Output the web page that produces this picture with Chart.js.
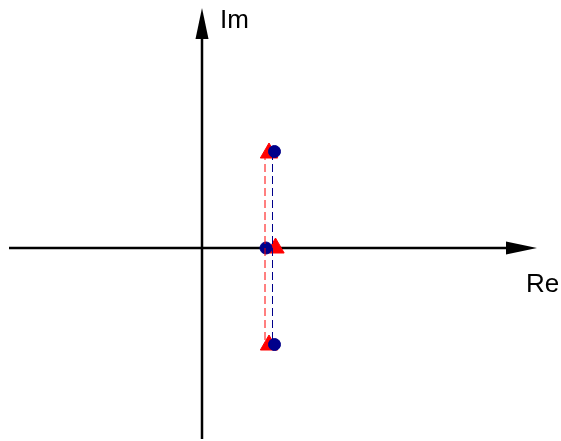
<!DOCTYPE html>
<html>
<head>
<meta charset="utf-8">
<script src="https://cdn.jsdelivr.net/npm/chart.js@4.4.0/dist/chart.umd.min.js"></script>
<style>
  body { margin: 0; background: #fff; }
  #wrap { width: 561px; height: 441px; position: relative; }
</style>
</head>
<body>
<div id="wrap"><canvas id="pz"></canvas></div>
<script>
// poles (circles) and zeros (triangles), real / imaginary parts
const circleRe = [0.725, 0.64, 0.725];
const circleIm = [0.965, 0, -0.965];
const triRe = [0.67, 0.735, 0.67];
const triIm = [0.95, 0, -0.97];

// dashed connectors between conjugate pairs
const redLineRe = [0.63, 0.63];
const redLineIm = [0.96, -0.96];
const blueLineRe = [0.705, 0.705];
const blueLineIm = [0.96, -0.96];

const axisLabels = ['Re', 'Im'];

const toPts = (xs, ys) => xs.map((x, i) => ({ x: x, y: ys[i] }));

// draws the Re / Im axes with arrow heads through the origin
const axesPlugin = {
    id: 'axes',
    beforeDatasetsDraw(chart) {
        const ctx = chart.ctx;
        const sx = chart.scales.x, sy = chart.scales.y;
        const x0 = sx.getPixelForValue(0), y0 = sy.getPixelForValue(0);
        const left = sx.getPixelForValue(-1.93), right = sx.getPixelForValue(3.35);
        const bottom = sy.getPixelForValue(-1.91), top = sy.getPixelForValue(2.40);
        const len = 31, hw = 6.5;
        ctx.save();
        ctx.strokeStyle = '#000';
        ctx.fillStyle = '#000';
        ctx.lineWidth = 2.5;
        ctx.beginPath();
        ctx.moveTo(left, y0);
        ctx.lineTo(right - len + 2, y0);
        ctx.moveTo(x0, bottom);
        ctx.lineTo(x0, top + len - 2);
        ctx.stroke();
        // arrow heads
        ctx.beginPath();
        ctx.moveTo(right, y0);
        ctx.lineTo(right - len, y0 - hw);
        ctx.lineTo(right - len, y0 + hw);
        ctx.closePath();
        ctx.fill();
        ctx.beginPath();
        ctx.moveTo(x0, top);
        ctx.lineTo(x0 - hw, top + len);
        ctx.lineTo(x0 + hw, top + len);
        ctx.closePath();
        ctx.fill();
        // labels
        ctx.font = '26px "Liberation Sans", Arial, sans-serif';
        ctx.textBaseline = 'alphabetic';
        ctx.textAlign = 'left';
        ctx.fillText(axisLabels[0], right - 11, y0 + 44);
        ctx.fillText(axisLabels[1], x0 + 18, top + 20);
        ctx.restore();
    }
};

new Chart(document.getElementById('pz'), {
    type: 'scatter',
    data: {
        datasets: [
            {
                data: toPts(redLineRe, redLineIm),
                showLine: true,
                borderColor: '#ff0000',
                borderWidth: 1,
                borderDash: [8, 4],
                pointRadius: 0,
            },
            {
                data: toPts(blueLineRe, blueLineIm),
                showLine: true,
                borderColor: '#00008b',
                borderWidth: 1,
                borderDash: [8, 4],
                pointRadius: 0,
            },
            {
                data: toPts(circleRe, circleIm),
                pointStyle: 'circle',
                pointRadius: 6,
                backgroundColor: '#00008b',
                borderColor: '#00008b',
                borderWidth: 1,
            },
            {
                data: toPts(triRe, triIm),
                pointStyle: 'triangle',
                pointRadius: 10,
                backgroundColor: '#ff0000',
                borderColor: '#ff0000',
                borderWidth: 1,
            },
        ],
    },
    options: {
        responsive: true,
        maintainAspectRatio: false,
        animation: false,
        layout: { padding: 0, autoPadding: false },
        plugins: {
            legend: { display: false },
            tooltip: { enabled: false },
        },
        scales: {
            x: { type: 'linear', min: -2.02, max: 3.59, display: false },
            y: { type: 'linear', min: -1.93, max: 2.48, display: false },
        },
    },
    plugins: [axesPlugin],
});
</script>
</body>
</html>
